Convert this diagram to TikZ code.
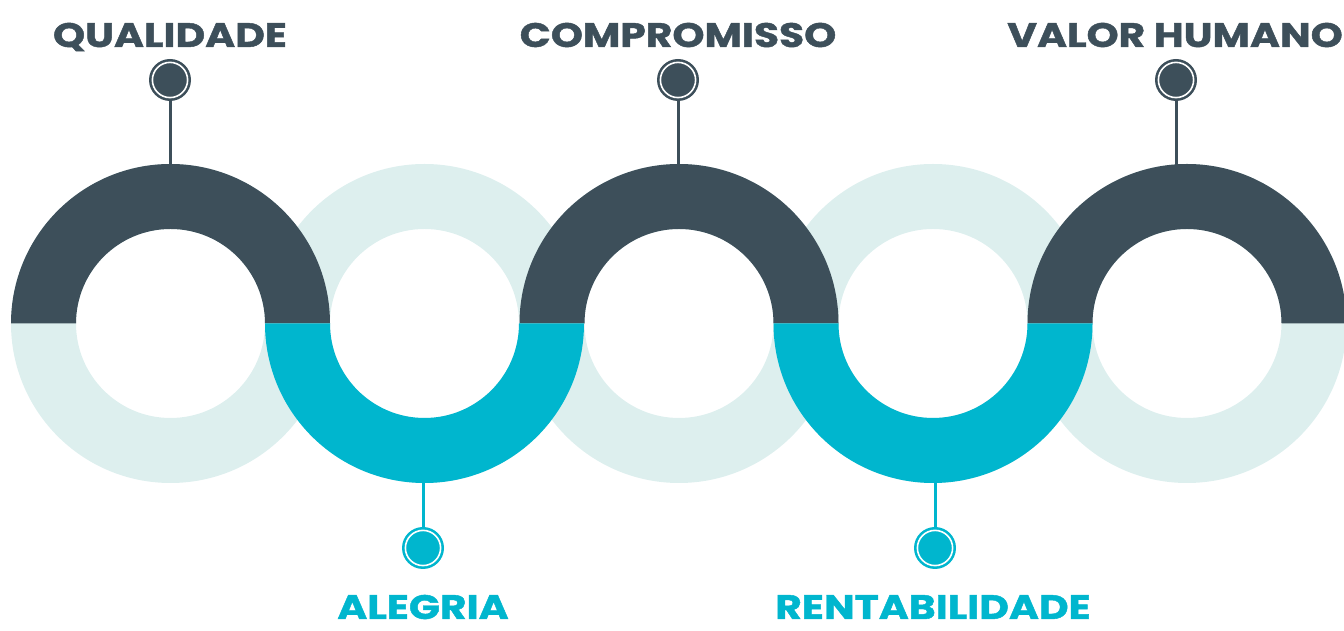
\documentclass[tikz,border=0pt]{standalone}
\usepackage{fontspec}
\setmainfont{Poppins}[BoldFeatures={FakeBold=1.2}]
\definecolor{darkc}{HTML}{3D4F5A}
\definecolor{cyanc}{HTML}{00B6CE}
\definecolor{lightc}{HTML}{DDEFEE}
\begin{document}
\begin{tikzpicture}[x=1pt,y=1pt,
  lbl/.style={font=\fontsize{34}{34}\selectfont\bfseries, inner sep=0pt, anchor=base, xscale=1.2},
  pinnode/.style={circle, minimum size=42pt, inner sep=0pt},
]
\useasboundingbox (0,0) rectangle (1344,631);
\def\R{159.5}\def\r{94.5}\def\cy{307.5}
% light full rings
\foreach \cx in {170.5,424.5,679,933,1187}{
  \fill[lightc,even odd rule] (\cx,\cy) circle (\R) (\cx,\cy) circle (\r);
}
% dark upper halves
\foreach \cx in {170.5,679,1187}{
  \fill[darkc] (\cx+\R,\cy) arc[start angle=0,end angle=180,radius=\R] -- (\cx-\r,\cy) arc[start angle=180,end angle=0,radius=\r] -- cycle;
}
% cyan lower halves
\foreach \cx in {424.5,933}{
  \fill[cyanc] (\cx-\R,\cy) arc[start angle=180,end angle=360,radius=\R] -- (\cx+\r,\cy) arc[start angle=360,end angle=180,radius=\r] -- cycle;
}
% pins
\node[pinnode, fill=darkc] (p1) at (170,551) {};
\node[pinnode, fill=darkc] (p3) at (678,551) {};
\node[pinnode, fill=darkc] (p5) at (1176,551) {};
\node[pinnode, fill=cyanc] (p2) at (423,83) {};
\node[pinnode, fill=cyanc] (p4) at (935,83) {};
\foreach \p in {p1,p2,p3,p4,p5}{
  \draw[white, line width=1.6pt] (\p.center) circle (17.6pt);
}
\coordinate (t1) at (170,466);
\coordinate (t3) at (678,466);
\coordinate (t5) at (1176,466);
\coordinate (b2) at (423,149);
\coordinate (b4) at (935,149);
\draw[darkc, line width=3pt] (p1.south) -- (t1);
\draw[darkc, line width=3pt] (p3.south) -- (t3);
\draw[darkc, line width=3pt] (p5.south) -- (t5);
\draw[cyanc, line width=3pt] (p2.north) -- (b2);
\draw[cyanc, line width=3pt] (p4.north) -- (b4);
% labels
\node[lbl, text=darkc] (l1) at (170,584) {QUALIDADE};
\node[lbl, text=darkc] (l3) at (678,584) {COMPROMISSO};
\node[lbl, text=darkc] (l5) at (1175,584) {VALOR HUMANO};
\node[lbl, text=cyanc] (l2) at (423,12) {ALEGRIA};
\node[lbl, text=cyanc] (l4) at (933,12) {RENTABILIDADE};
\end{tikzpicture}
\end{document}
